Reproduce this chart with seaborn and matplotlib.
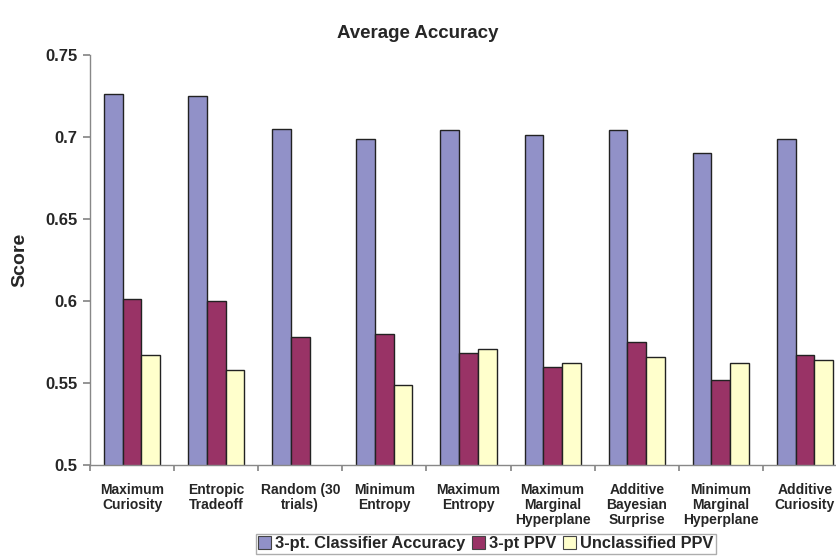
import numpy as np
import pandas as pd
import matplotlib
matplotlib.use("Agg")
import matplotlib.pyplot as plt
from matplotlib.patches import Patch
import seaborn as sns

# Active-learning strategies compared
strategies = [
    "Maximum\nCuriosity", "Entropic\nTradeoff", "Random (30\ntrials)",
    "Minimum\nEntropy", "Maximum\nEntropy", "Maximum\nMarginal\nHyperplane",
    "Additive\nBayesian\nSurprise", "Minimum\nMarginal\nHyperplane", "Additive\nCuriosity",
]
series_names = ["3-pt. Classifier Accuracy", "3-pt PPV", "Unclassified PPV"]

classifier_accuracy = [0.726, 0.725, 0.705, 0.699, 0.704, 0.701, 0.704, 0.690, 0.699]
ppv_3pt = [0.601, 0.600, 0.578, 0.580, 0.568, 0.560, 0.575, 0.552, 0.567]
unclassified_ppv = [0.567, 0.558, np.nan, 0.549, 0.571, 0.562, 0.566, 0.562, 0.564]

colors = ["#9191C8", "#993366", "#FFFFCC"]
yticks = [0.5, 0.55, 0.6, 0.65, 0.7, 0.75]
ytick_labels = ["0.5", "0.55", "0.6", "0.65", "0.7", "0.75"]

df = pd.DataFrame({
    "Strategy": strategies * 3,
    "Series": [series_names[0]] * 9 + [series_names[1]] * 9 + [series_names[2]] * 9,
    "Score": classifier_accuracy + ppv_3pt + unclassified_ppv,
})

sns.set_theme(style="white")
plt.rcParams["font.family"] = ["Liberation Sans", "DejaVu Sans"]

fig = plt.figure(figsize=(8.36, 5.56), dpi=100)
ax = fig.add_axes([90 / 836, 91 / 556, 757 / 836, 410 / 556])

sns.barplot(
    data=df, x="Strategy", y="Score", hue="Series", order=strategies,
    hue_order=series_names, palette=colors, width=0.666, dodge=True,
    edgecolor="#222222", linewidth=1.0, legend=False, ax=ax, saturation=1,
)

ax.set_ylim(0.5, 0.75)
ax.set_xlim(-0.5, len(strategies) - 0.5)
ax.set_yticks(yticks)
ax.set_yticklabels(ytick_labels, fontsize=12, fontweight="bold")
ax.tick_params(axis="y", which="major", direction="out", length=5,
               color="#888888", left=True, pad=4)

# Group separators as major ticks; category names as minor ticks
ax.set_xticks(np.arange(-0.5, len(strategies), 1.0))
ax.set_xticklabels([])
ax.set_xticks(np.arange(len(strategies)), minor=True)
ax.set_xticklabels(strategies, minor=True, fontsize=10, fontweight="bold",
                   linespacing=1.1)
ax.tick_params(axis="x", which="major", direction="out", length=4,
               color="#888888", bottom=True)
ax.tick_params(axis="x", which="minor", length=0, pad=13)

for side in ["top", "right"]:
    ax.spines[side].set_visible(False)
for side in ["left", "bottom"]:
    ax.spines[side].set_color("#888888")
    ax.spines[side].set_linewidth(1.0)

ax.set_xlabel("")
ax.set_ylabel("Score", fontsize=14, fontweight="bold", labelpad=12)

fig.text(418 / 836, 1 - 33 / 556, "Average Accuracy", ha="center", va="center",
         fontsize=13.5, fontweight="bold")

handles = [Patch(facecolor=c, edgecolor="#444444", linewidth=0.8) for c in colors]
fig.legend(handles, series_names, loc="lower center",
           bbox_to_anchor=(486 / 836, -0.011), ncol=3, frameon=True,
           fancybox=False, edgecolor="#999999", handlelength=0.8,
           handleheight=0.8, handletextpad=0.25, columnspacing=0.4,
           borderpad=0.15, prop={"weight": "bold", "size": 11.8})

fig.savefig("out.png", dpi=100)
